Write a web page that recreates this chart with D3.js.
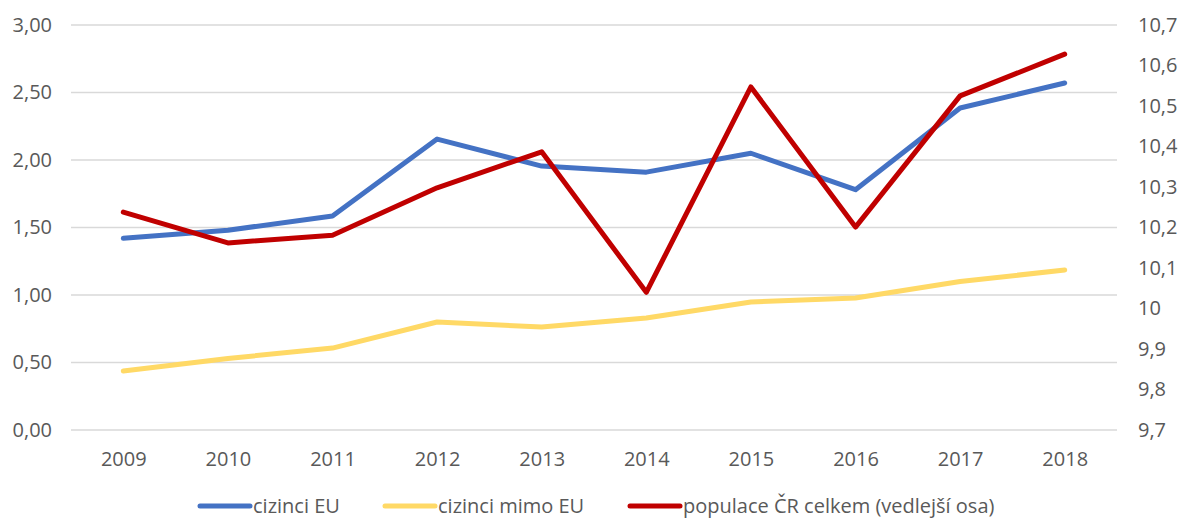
<!DOCTYPE html>
<html>
<head>
<meta charset="utf-8">
<script src="https://cdn.jsdelivr.net/npm/d3@7"></script>
<style>
  html, body { margin: 0; padding: 0; background: #fff; }
  svg text { font-family: "Open Sans", "Noto Sans", sans-serif; fill: #595959; }
</style>
</head>
<body>
<svg id="chart" width="1182" height="521"></svg>
<script>
// Years on the category axis
const years = ["2009", "2010", "2011", "2012", "2013", "2014", "2015", "2016", "2017", "2018"];
// Primary axis series
const euForeigners = [1.42, 1.48, 1.585, 2.155, 1.955, 1.91, 2.05, 1.78, 2.385, 2.57];
const nonEuForeigners = [0.437, 0.53, 0.607, 0.80, 0.763, 0.83, 0.948, 0.978, 1.10, 1.185];
// Secondary axis series
const totalPopulation = [10.238, 10.162, 10.181, 10.298, 10.387, 10.04, 10.547, 10.201, 10.525, 10.628];
// Tick values
const leftTicks = [0, 0.5, 1, 1.5, 2, 2.5, 3];
const rightTicks = [9.7, 9.8, 9.9, 10, 10.1, 10.2, 10.3, 10.4, 10.5, 10.6, 10.7];

const seriesNames = ["cizinci EU", "cizinci mimo EU", "populace ČR celkem (vedlejší osa)"];
const colors = ["#4472C4", "#FFD966", "#C00000"];

const svg = d3.select("#chart");
const plot = { left: 71, right: 1117, top: 25, bottom: 430 };
const fontSize = "20px";

const x = d3.scalePoint().domain(years).range([plot.left, plot.right]).padding(0.5);
const yLeft = d3.scaleLinear().domain([0, 3]).range([plot.bottom, plot.top]);
const yRight = d3.scaleLinear().domain([9.7, 10.7]).range([plot.bottom, plot.top]);

const fmtLeft = v => d3.format(".2f")(v).replace(".", ",");
const fmtRight = v => (Math.abs(v - 10) < 1e-9 ? "10" : d3.format(".1f")(v).replace(".", ","));

// Horizontal gridlines
svg.append("g")
  .selectAll("line")
  .data(leftTicks)
  .join("line")
  .attr("x1", plot.left).attr("x2", plot.right)
  .attr("y1", d => yLeft(d)).attr("y2", d => yLeft(d))
  .attr("stroke", "#d9d9d9").attr("stroke-width", 1.5);

// Left axis
const leftAxis = svg.append("g")
  .attr("transform", `translate(${plot.left},0)`)
  .call(d3.axisLeft(yLeft).tickValues(leftTicks).tickFormat(fmtLeft).tickSize(0).tickPadding(19));
leftAxis.select(".domain").remove();
leftAxis.selectAll("text").style("font-size", fontSize).attr("fill", "#595959");

// Right axis
const rightAxis = svg.append("g")
  .attr("transform", `translate(${plot.right},0)`)
  .call(d3.axisRight(yRight).tickValues(rightTicks).tickFormat(fmtRight).tickSize(0).tickPadding(21));
rightAxis.select(".domain").remove();
rightAxis.selectAll("text").style("font-size", fontSize).attr("fill", "#595959");

// Category axis
const bottomAxis = svg.append("g")
  .attr("transform", `translate(0,${plot.bottom})`)
  .call(d3.axisBottom(x).tickSize(0).tickPadding(22));
bottomAxis.select(".domain").remove();
bottomAxis.selectAll("text").style("font-size", fontSize).attr("fill", "#595959");

// Lines
const lineLeft = d3.line().x((d, i) => x(years[i])).y(d => yLeft(d));
const lineRight = d3.line().x((d, i) => x(years[i])).y(d => yRight(d));

const drawSeries = (data, gen, color) => svg.append("path")
  .datum(data)
  .attr("d", gen)
  .attr("fill", "none")
  .attr("stroke", color)
  .attr("stroke-width", 5)
  .attr("stroke-linejoin", "round")
  .attr("stroke-linecap", "round");

drawSeries(nonEuForeigners, lineLeft, colors[1]);
drawSeries(euForeigners, lineLeft, colors[0]);
drawSeries(totalPopulation, lineRight, colors[2]);

// Legend
const legendItems = [
  { name: seriesNames[0], color: colors[0], x: 200 },
  { name: seriesNames[1], color: colors[1], x: 385 },
  { name: seriesNames[2], color: colors[2], x: 630 }
];
const legend = svg.append("g").attr("transform", "translate(0,506)");
legendItems.forEach(item => {
  legend.append("line")
    .attr("x1", item.x).attr("x2", item.x + 50)
    .attr("y1", 0).attr("y2", 0)
    .attr("stroke", item.color).attr("stroke-width", 5).attr("stroke-linecap", "round");
  legend.append("text")
    .attr("x", item.x + 53).attr("y", 0).attr("dy", "0.35em")
    .style("font-size", fontSize)
    .text(item.name);
});
</script>
</body>
</html>
